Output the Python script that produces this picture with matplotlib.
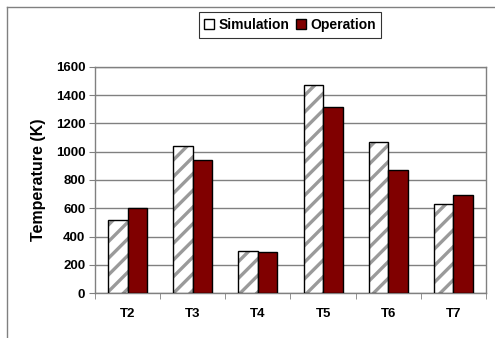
import matplotlib
matplotlib.use("Agg")
import matplotlib.pyplot as plt
import numpy as np
from matplotlib.lines import Line2D

categories = ["T2", "T3", "T4", "T5", "T6", "T7"]
simulation = [520, 1040, 300, 1475, 1070, 630]
operation = [605, 945, 290, 1320, 870, 695]
y_ticks = [0, 200, 400, 600, 800, 1000, 1200, 1400, 1600]

plt.rcParams['font.family'] = ['Liberation Sans', 'DejaVu Sans']
plt.rcParams['font.weight'] = 'bold'
plt.rcParams['hatch.linewidth'] = 2.4

W, H = 495, 338
fig = plt.figure(figsize=(W / 100, H / 100), dpi=100)
ax = fig.add_axes([95 / W, 1 - 293 / H, (486 - 95) / W, (293 - 67) / H])

x = np.arange(len(categories))
bw = 0.3
# hatched fill (gray hatch), then black outline on top
ax.bar(x - bw / 2, simulation, bw, facecolor='white', edgecolor='#9a9a9a',
       hatch='//', linewidth=0, zorder=3)
ax.bar(x - bw / 2, simulation, bw, facecolor='none', edgecolor='black',
       linewidth=1.0, label='Simulation', zorder=4)
ax.bar(x + bw / 2, operation, bw, facecolor='#800000', edgecolor='black',
       linewidth=1.0, label='Operation', zorder=4)

ax.set_xlim(-0.5, len(categories) - 0.5)
ax.set_ylim(0, 1600)
ax.set_yticks(y_ticks)
ax.set_yticklabels([str(v) for v in y_ticks], fontsize=9.5, fontweight='bold')
ax.set_xticks(x)
ax.set_xticklabels(categories, fontsize=9.5, fontweight='bold')
ax.tick_params(axis='x', length=0, pad=11)
ax.set_xticks(np.arange(-0.5, len(categories)), minor=True)
ax.tick_params(axis='x', which='minor', length=4, color='#808080', direction='out')
ax.tick_params(axis='y', length=4, color='#808080', direction='out', pad=3)
ax.grid(axis='y', color='#808080', linewidth=1.0, zorder=0)
ax.set_axisbelow(True)
for s in ax.spines.values():
    s.set_color('#808080')
    s.set_linewidth(1.0)
ax.set_ylabel('Temperature (K)', fontsize=11.5, fontweight='bold', labelpad=7)

leg = ax.legend(loc='center', bbox_to_anchor=((290 - 95) / (486 - 95), (293 - 25) / (293 - 67)),
                ncol=2, frameon=True, fancybox=False, edgecolor='black',
                handlelength=0.7, handleheight=0.7, handletextpad=0.3,
                columnspacing=0.5, borderpad=0.4, prop={'weight': 'bold', 'size': 10})
leg.get_frame().set_linewidth(0.8)

# chart area border (top and left visible)
fig.add_artist(Line2D([7 / W, 1], [1 - 7 / H, 1 - 7 / H], color='#808080', linewidth=1.0))
fig.add_artist(Line2D([7 / W, 7 / W], [0, 1 - 7 / H], color='#808080', linewidth=1.0))

fig.savefig('out.png', dpi=100)
